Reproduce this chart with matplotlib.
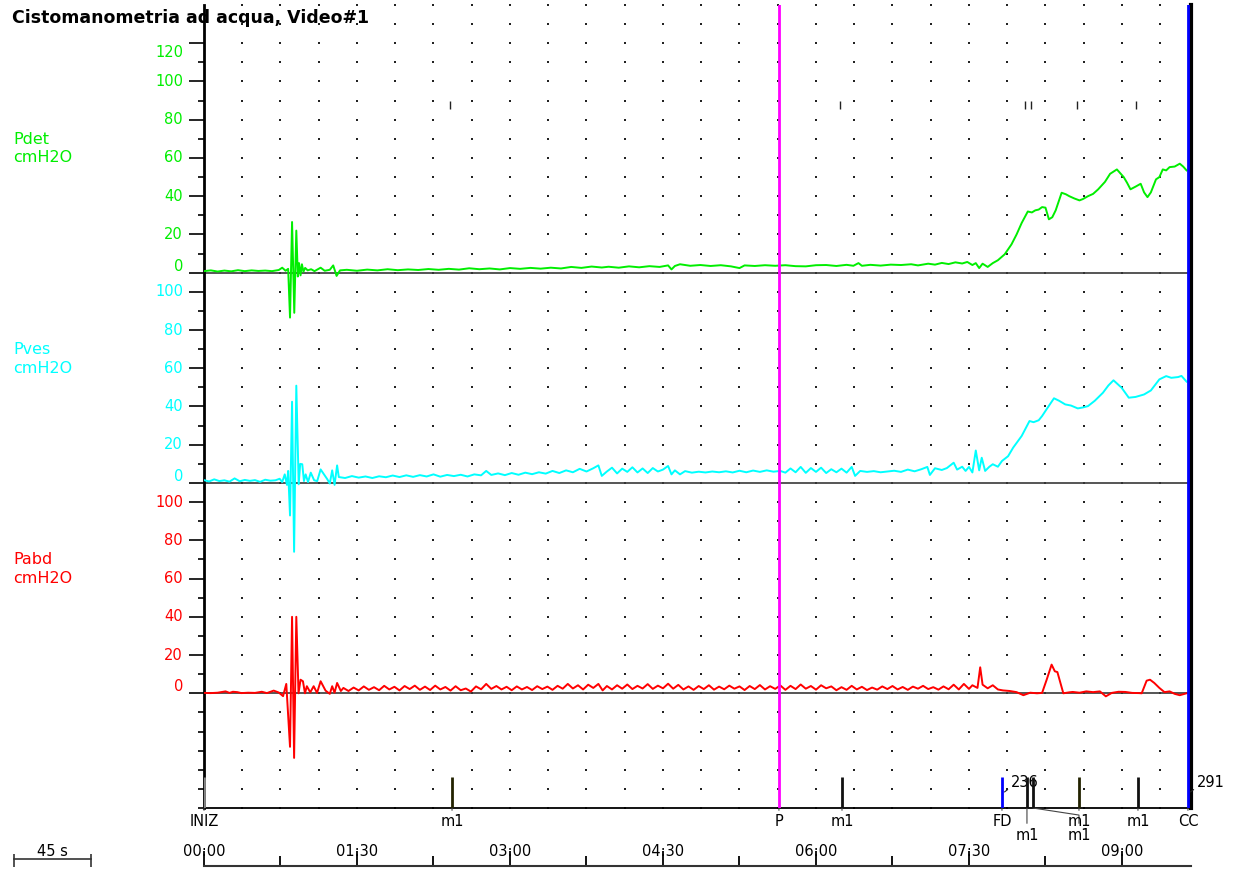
import numpy as np
import matplotlib
matplotlib.use("Agg")
import matplotlib.pyplot as plt
import matplotlib.transforms as mtransforms

plt.rcParams['font.family'] = ['DejaVu Sans']

# -----------------------------------
# Data (time in s, pressure in cmH2O)
# -----------------------------------
pdet_t = [0, 4, 8, 12, 16, 20, 24, 28, 32, 36, 40, 44, 46, 48, 49.5, 50.6, 51.8, 53.1, 54.3, 55.2,
          55.9, 56.8, 57.6, 58.5, 59.5, 61, 63, 65, 68.6, 71, 74, 76, 78, 80,
          84, 90, 96, 102, 108, 114, 120, 126, 132, 138, 144, 150, 156, 162, 168, 174, 180, 186,
          192, 198, 204, 210, 216, 222, 228, 234,
          238, 244, 250, 256, 262, 268, 273, 275, 277, 280, 286, 292, 298, 304, 310, 315, 318, 324,
          330, 336, 342, 348, 354, 360, 366, 372, 378, 382, 385, 387, 392, 398, 404, 410, 416, 420,
          426, 430, 434, 438, 442, 446, 449, 452, 454, 456, 458, 461, 464, 467, 471, 475, 478, 481,
          484.6, 487, 489, 491, 493, 495, 497, 499, 501, 504.5, 507, 509, 512, 515, 517, 520, 523,
          526, 530, 533, 537, 541, 543, 545, 548, 551, 553, 555, 557, 560, 562, 564, 566, 568, 571,
          574, 576, 578]
pdet_v = [0.8, 1.2, 0.6, 1.1, 0.7, 1.3, 0.8, 1.2, 0.9, 1.1, 0.8, 1.4, 2.6, 1.0, 2.0, -23.5, 26.5, -21, 22, -2,
          5, -1.4, 4.4, 0.5, 2.5, 1.2, 1.8, 0.8, 2.6, 1.0, 1.5, 3.8, -1.7, 1.2,
          1.5, 1.0, 1.6, 1.2, 1.8, 1.3, 1.7, 1.4, 1.9, 1.5, 2.0, 1.6, 2.3, 1.8, 2.2, 1.7, 2.4, 2.0,
          2.5, 2.1, 2.6, 2.2, 3.0, 2.5, 3.2, 2.7,
          3.1, 2.6, 3.3, 2.8, 3.4, 3.0, 3.8, 1.7, 3.5, 4.4, 3.6, 4.0, 3.5, 3.9, 3.3, 2.4, 3.8, 3.5,
          3.9, 3.6, 3.9, 3.4, 3.3, 3.9, 4.0, 3.5, 4.1, 3.6, 5.0, 3.6, 4.1, 3.7, 4.2, 4.0, 4.4, 3.8,
          4.7, 4.2, 5.1, 4.5, 5.4, 4.8, 5.6, 4.0, 5.0, 2.4, 4.7, 3.0, 5.0, 6.5, 9.6, 14.8, 20, 26,
          32, 31.5, 32.6, 33, 34.3, 34, 27.9, 29, 32.6, 41.8, 41, 40, 38.8, 37.8, 38.5, 40, 41.2,
          43.6, 47.5, 51.7, 54, 50, 47, 43.6, 45, 46.5, 42, 39.5, 42, 48.8, 50, 54, 53.5, 55.2, 55.5,
          57, 55.5, 53.5]

pves_t = [0, 3, 6, 9, 12, 15, 18, 21, 24, 27, 30, 33, 36, 39, 42, 44.5, 46, 47.5, 48.8, 49.5,
          50.6, 51.8, 53.0, 54.3, 55.7, 56.6, 57.8, 58.8, 59.8, 61.2, 62.8, 64.8, 66.6, 68.6, 70.5,
          72.5, 74, 75.4, 76.8, 78.3, 79.3,
          83, 87, 91, 95, 99, 103, 107, 111, 115, 119, 123, 127, 131, 135, 139, 143, 147, 151, 155,
          159, 163, 166, 169, 173, 177, 181, 185, 189, 193, 197, 201, 205, 209, 213, 217, 221, 225,
          229, 232, 234,
          237, 240, 243, 246, 249, 252, 255, 258, 261, 264, 267, 270, 273, 275, 277, 280, 283, 287,
          291, 295, 299, 303, 307, 311, 315, 319, 323, 327, 331, 335, 339, 342, 345, 348, 351, 354,
          357, 360, 363, 366, 369, 372, 375, 378, 381, 383, 386, 390, 394, 398, 402, 406, 410, 414,
          418, 422, 425.5, 427, 430, 434, 437, 441, 443, 446, 448, 450, 452, 454, 456, 457.5, 459.5,
          462, 464, 467, 469.4, 473, 476, 481, 485.6, 488, 491, 493, 495.6, 500, 503, 506.6, 510,
          514, 517, 520, 524, 528.8, 532, 535, 539.8, 544, 548, 553, 557, 562, 566, 569, 573, 575,
          578]
pves_v = [1.5, 0.8, 1.9, 1.0, 1.4, 0.7, 2.4, 0.9, 1.6, 1.1, 1.5, 0.6, 1.7, 1.2, 1.4, 2.2, 0.5, 4.5, -1, 6.3,
          -17, 42.5, -36, 50.9, -0.7, 10, 9.8, 1, 4.5, 0.5, 5.4, 1.4, 1.0, 7.1, 4.6,
          2.0, -0.3, 6.6, -1, 9.2, 3.1,
          2.6, 3.6, 2.8, 3.4, 2.6, 3.5, 3.0, 3.9, 3.1, 4.0, 3.2, 4.1, 3.4, 4.5, 3.3, 4.2, 3.6, 4.3, 3.4,
          4.5, 4.0, 6.3, 4.2, 5.0, 4.1, 5.2, 4.3, 5.4, 4.6, 5.6, 4.9, 6.3, 5.2, 6.6, 5.6, 7.4, 6.0,
          7.7, 9.2, 3.7,
          6.0, 8.0, 5.0, 7.5, 5.8, 8.2, 5.5, 7.6, 5.2, 7.8, 6.0, 7.0, 8.9, 4.5, 6.6, 4.5, 6.2, 5.4,
          5.9, 5.5, 6.0, 5.6, 6.1, 5.5, 6.4, 5.6, 6.5, 5.8, 6.6, 5.9, 6.3, 5.4, 7.6, 5.6, 8.4, 5.3,
          7.8, 5.8, 8.0, 5.2, 7.2, 5.6, 7.5, 5.4, 8.4, 3.7, 6.3, 5.8, 6.2, 5.6, 6.0, 6.4, 5.8, 7.0,
          6.1, 7.2, 8.4, 4.2, 7.7, 6.8, 7.8, 10.6, 7.0, 8.5, 6.3, 8.4, 5.5, 17, 6.6, 13.2, 6.3,
          8.5, 9.8, 8.5, 11.5, 14, 18.5, 24.6, 32.4, 31.8, 32.8, 35, 38.5, 44.3, 43, 41.1, 40.5,
          39, 39.5, 40.2, 43, 47.2, 51, 53.7, 49.8, 44.6, 45, 46.3, 48.4, 54.2, 55.9, 55, 55.4, 56,
          53]

pabd_t = [0, 4, 8, 12.7, 15, 17, 19.6, 22, 26, 30, 34, 37, 41, 44, 46.5, 48.4, 50.6, 51.8, 53.0, 54.3,
          55.6, 56.8, 58.2, 59.4, 60.5, 62.5, 64.5, 66.5, 68.6, 71.5, 74, 75.4, 76.8, 78.3, 80.5,
          82, 85, 88, 91, 94, 97, 100, 103, 106, 109, 112, 115, 118, 121, 124, 127, 130, 133, 136,
          139, 142, 145, 148, 151, 154, 157, 160, 163, 166, 169, 172, 175, 178, 181, 184, 187, 190,
          193, 196, 199, 202, 205, 208, 211, 214, 217, 220, 223, 226, 229, 232, 234.5,
          237, 240, 243, 246, 249, 252, 255, 258, 261, 264, 267, 270, 273, 276, 279, 282, 285, 288,
          291, 294, 297, 300, 303, 306, 309, 312, 315, 318, 321, 324, 327, 330, 333, 336, 339, 342,
          345, 348, 351, 354, 357, 360, 363, 366, 369, 372, 375, 378, 381, 384, 387, 390, 393, 396,
          399, 402, 405, 408, 411, 414, 417, 420, 423, 426, 429, 432, 435, 438, 441, 444, 447, 450,
          452, 455, 456.6, 458, 461, 464, 467, 470, 474, 478, 482, 486, 490, 493, 495.7, 498.6,
          500.5, 502, 505.5, 509, 511, 515, 519, 523, 527, 530.5, 534, 538, 542, 546, 550, 551.6,
          554.5, 556.5, 559, 562, 565, 568, 571, 574, 578]
pabd_v = [0.2, 0.1, 0.3, 1.0, 0.2, 0.8, 0.6, 0.1, 0.3, 0.2, 0.8, 0.1, 1.4, 0.4, -1.5, 4.9, -28, 40, -33.8, 40,
          0, 7.1, 6.3, 0, 3.7, 0.5, 3.7, 0.2, 6.3, 1.4, -0.3, 3.7, 0.3, 5.4, 1.2,
          2.8, 1.2, 3.0, 1.5, 3.6, 1.8, 3.2, 1.6, 3.9, 2.0, 3.4, 1.5, 3.8, 2.2, 4.0, 1.8, 3.5, 1.7, 4.0,
          2.0, 3.3, 1.4, 3.7, 1.6, 2.5, 0.9, 3.6, 2.1, 4.9, 2.3, 3.8, 2.0, 3.4, 1.6, 3.6, 2.0, 3.3,
          1.7, 3.7, 2.2, 3.5, 1.8, 3.9, 2.4, 4.9, 2.5, 4.2, 2.0, 4.5, 2.8, 4.9, 1.5,
          3.8, 2.0, 4.2, 2.4, 4.6, 2.2, 3.9, 2.5, 4.8, 2.3, 4.0, 2.6, 5.0, 2.4, 4.4, 2.0, 3.6, 1.8,
          3.8, 2.2, 4.2, 1.9, 3.5, 2.1, 4.0, 2.4, 3.6, 1.7, 3.8, 2.2, 4.3, 2.0, 3.7, 2.3, 4.1, 1.8,
          3.9, 2.2, 4.6, 2.4, 3.8, 1.9, 4.2, 2.6, 3.6, 1.6, 3.2, 1.8, 3.9, 2.0, 3.4, 1.7, 3.0, 1.9,
          3.6, 2.2, 3.8, 2.0, 3.3, 1.8, 3.5, 2.4, 3.9, 2.2, 3.2, 1.9, 3.6, 2.1, 4.5, 2.0, 4.9, 2.3,
          4.2, 2.8, 13.6, 4.5, 2.6, 4.2, 2.0, 1.5, 1.2, 0.6, -1.0, 0.3, 0.0, 0.2, 7.1, 15.0,
          11.5, 11.1, 0.0, 0.5, 0.7, 0.3, 1.0, 0.6, 1.0, -1.6, 0.2, 0.8, 0.7, 0.2, 0.1, 0.0,
          6.6, 7.1, 5.4, 2.8, 0.6, 1.0, -0.3, -1.0, 0.0]

channels = ["Pdet", "Pves", "Pabd"]
channel_units = ["cmH2O", "cmH2O", "cmH2O"]
channel_colors = ["#00ee00", "#00ffff", "#ff0000"]
channel_offsets = [220, 110, 0]     # vertical stacking of the traces
channel_ticks = [[0, 20, 40, 60, 80, 100, 120],
                 [0, 20, 40, 60, 80, 100],
                 [0, 20, 40, 60, 80, 100]]

# events (s)
event_t = [0, 145.9, 338.2, 375.3, 469.4, 484.1, 487.6, 514.7, 549.4, 578.8]
event_name = ["INIZ", "m1", "P", "m1", "FD", "m1", "m1", "m1", "m1", "CC"]
event_label_t = [0, 145.9, 338.2, 375.3, 469.4, 484.1, 514.7, 514.7, 549.4, 578.8]
event_row = [0, 0, 0, 0, 0, 1, 1, 0, 0, 0]
event_color = ["#888888", "#222200", "#ff00ff", "#111111", "#0000ff", "#111111", "#111111",
               "#222200", "#111111", "#0000ff"]
event_full = [False, False, True, False, False, False, False, False, False, True]
volume_t = [469.4, 578.8]
volume_ml = ["236", "291"]

ruler_ticks = [0, 45, 90, 135, 180, 225, 270, 315, 360, 405, 450, 495, 540]
ruler_label_t = [0, 90, 180, 270, 360, 450, 540]
ruler_labels = ["00:00", "01:30", "03:00", "04:30", "06:00", "07:30", "09:00"]

# -----------------------------------
# Figure
# -----------------------------------
W, H = 1236, 874
fig = plt.figure(figsize=(W / 100, H / 100), dpi=100)
ax = fig.add_axes([204 / W, 66 / H, 987 / W, 803 / H])
ax.set_xlim(0, 580.6)
ax.set_ylim(-60, 360)

# dotted grid
gx, gy = np.meshgrid(np.arange(22.5, 580, 22.5), np.arange(-60, 361, 10))
ax.scatter(gx.ravel(), gy.ravel(), s=1.3, marker='s', color='#222222', linewidths=0, zorder=1,
           clip_on=False)

# zero lines and traces
series = [(pdet_t, pdet_v), (pves_t, pves_v), (pabd_t, pabd_v)]
for (t, v), col, off in zip(series, channel_colors, channel_offsets):
    ax.axhline(off, color='#383838', lw=1.2, zorder=2)
    ax.plot(t, np.array(v) + off, color=col, lw=1.4, zorder=3)

# y ticks
major = [off + v for off, tk in zip(channel_offsets, channel_ticks) for v in tk]
minor = [v for v in range(-60, 341, 10) if v not in major]
ax.set_yticks(major)
ax.set_yticks(minor, minor=True)
ax.tick_params(axis='y', which='major', length=10.8, width=1.2, labelleft=False)
ax.tick_params(axis='y', which='minor', length=4.3, width=1.2)
ax.set_xticks([])

ylab_tr = mtransforms.blended_transform_factory(ax.transAxes, ax.transData)
for tk, col, off in zip(channel_ticks, channel_colors, channel_offsets):
    for v in tk:
        dy = 3.4 if v == 0 else (-5 if v == 120 else 0)
        ax.text(-0.0213, off + v + dy, str(v), transform=ylab_tr, ha='right', va='center',
                color=col, fontsize=10.5)

# channel names
for name, unit, col, off in zip(channels, channel_units, channel_colors, channel_offsets):
    ax.text(13 / W, 735 / H - (220 - off) * 803 / 420 / H, name,
            transform=fig.transFigure, color=col, fontsize=11.5, va='center')
    ax.text(13 / W, 716 / H - (220 - off) * 803 / 420 / H, unit,
            transform=fig.transFigure, color=col, fontsize=11.5, va='center')

# spines
ax.spines['top'].set_visible(False)
ax.spines['left'].set_linewidth(2)
ax.spines['right'].set_linewidth(3)
ax.spines['bottom'].set_linewidth(1.3)

# events
for t, name, lt, row, col, full in zip(event_t, event_name, event_label_t, event_row,
                                        event_color, event_full):
    if full:
        ax.axvline(t, color=col, lw=2, zorder=4)
    else:
        ax.vlines(t, -60, -44, color=col, lw=2, zorder=4)
    if name == "m1":
        ax.vlines(t - 1.2, 305.5, 309.7, color='#222222', lw=1, zorder=4)
    cs = "arc3"
    if lt != t:
        cs = "angle,angleA=90,angleB=-8.7,rad=0"
    ax.annotate(name, xy=(t, -60), xytext=(lt, 52 - 13 * row),
                textcoords=('data', 'figure pixels'), ha='center', va='center', fontsize=10.5,
                arrowprops=dict(arrowstyle='-', color='#444444', lw=0.8, shrinkA=1, shrinkB=0,
                                connectionstyle=cs),
                annotation_clip=False)

for t, vol in zip(volume_t, volume_ml):
    ax.annotate(vol, xy=(t + 1.5, -51.6), xytext=(t + 5, -46.9), ha='left', va='center',
                fontsize=10.5,
                arrowprops=dict(arrowstyle='-', color='#222222', lw=0.8, relpos=(0, 0.2),
                                shrinkA=0, shrinkB=0),
                annotation_clip=False)

ax.text(12 / W, 1 - 18 / H, "Cistomanometria ad acqua, Video#1", transform=fig.transFigure,
        fontsize=12.5, fontweight='bold', va='center', ha='left')

# time ruler
ax2 = fig.add_axes([204 / W, 8 / H, 987 / W, 14 / H])
ax2.set_xlim(0, 580.6)
ax2.set_ylim(0, 1)
for s in ['top', 'left', 'right']:
    ax2.spines[s].set_visible(False)
ax2.spines['bottom'].set_linewidth(1.5)
ax2.spines['bottom'].set_color('#333333')
ax2.set_yticks([])
ax2.set_xticks(ruler_label_t)
ax2.set_xticks([t for t in ruler_ticks if t not in ruler_label_t], minor=True)
ax2.tick_params(axis='x', which='major', direction='in', length=11, width=1.3, labelbottom=False)
ax2.tick_params(axis='x', which='minor', direction='in', length=7.2, width=1.3)
ax2.patch.set_alpha(0)
for t, lab in zip(ruler_label_t, ruler_labels):
    ax2.text(t, 1.0, lab, ha='center', va='center', fontsize=10.5)

# 45 s scale bar
ax3 = fig.add_axes([14 / W, 9 / H, 76.5 / W, 12 / H])
ax3.set_xlim(0, 45)
ax3.set_ylim(0, 1)
ax3.axis('off')
ax3.plot([0, 45], [0.5, 0.5], color='#333333', lw=1.2, clip_on=False)
ax3.vlines([0, 45], -0.2, 0.9, color='#333333', lw=1.2, clip_on=False)
ax3.text(22.5, 1.15, "45 s", ha='center', va='center', fontsize=10.5)

fig.savefig("out.png", dpi=100)
